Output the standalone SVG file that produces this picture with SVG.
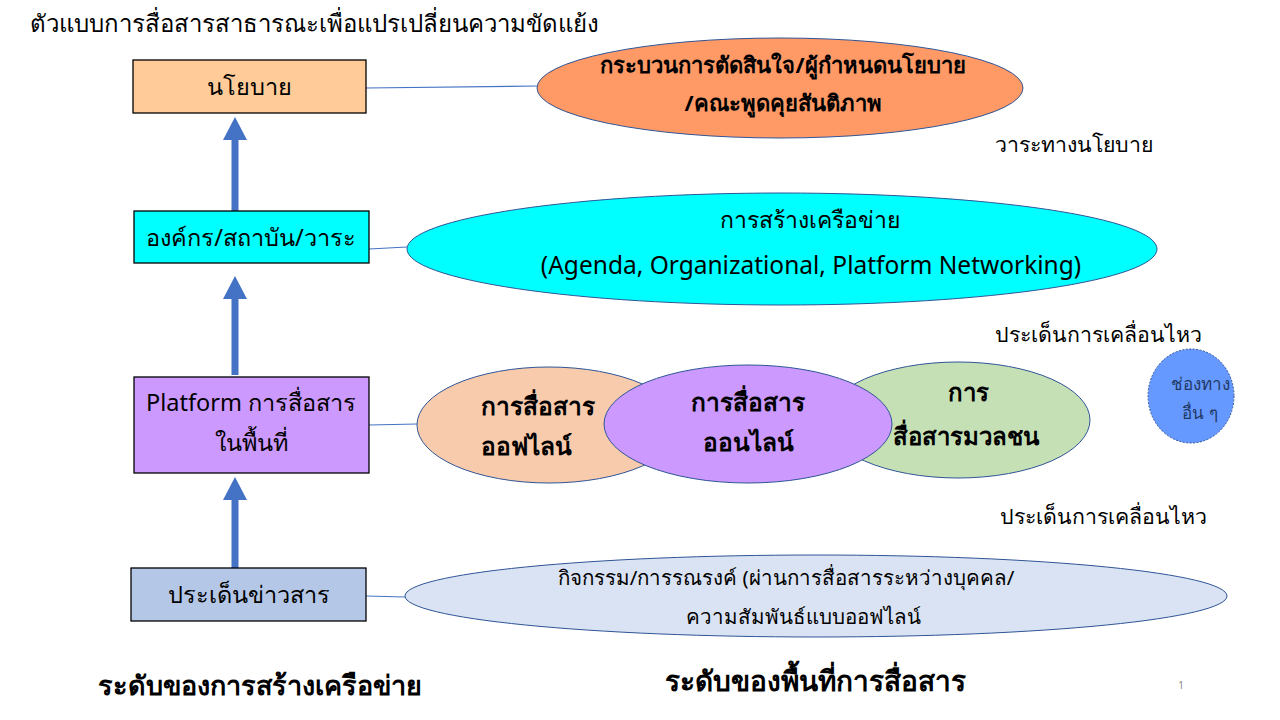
<svg xmlns="http://www.w3.org/2000/svg" width="1280" height="720" viewBox="0 0 1280 720">
<defs>
<style>
text{font-family:"Noto Sans","DejaVu Sans",sans-serif;fill:#000}
.box{stroke:#000;stroke-width:1.3}
.ell{stroke:#2F5597;stroke-width:1}
.link{stroke:#4472C4;stroke-width:1.2;fill:none}
.arrow{fill:#4472C4}
.b{font-weight:bold}
</style>
</defs>
<rect width="1280" height="720" fill="#fff"/>
<text x="30" y="32" font-size="24">ตัวแบบการสื่อสารสาธารณะเพื่อแปรเปลี่ยนความขัดแย้ง</text>

<g id="connectors">
<line class="link" x1="366" y1="88" x2="537" y2="86"/>
<line class="link" x1="369" y1="249" x2="407" y2="247"/>
<line class="link" x1="369" y1="425" x2="417" y2="424"/>
<line class="link" x1="366" y1="596" x2="405" y2="597"/>
<path class="arrow" d="M231.5 212 V140 H223 L235 117 L247 140 H238.5 V212 Z"/>
<path class="arrow" d="M231.5 375 V299 H223 L235 276 L247 299 H238.5 V375 Z"/>
<path class="arrow" d="M231.5 568 V500 H223 L235 477 L247 500 H238.5 V568 Z"/>
</g>

<g id="n-policy">
<rect class="box" x="133" y="60" width="233" height="53" fill="#FFCC99"/>
<text x="249" y="95" font-size="23.5" text-anchor="middle">นโยบาย</text>
</g>
<g id="n-org">
<rect class="box" x="134" y="211" width="235" height="52" fill="#00FFFF"/>
<text x="251" y="246" font-size="23.5" text-anchor="middle">องค์กร/สถาบัน/วาระ</text>
</g>
<g id="n-platform">
<rect class="box" x="134" y="377" width="235" height="96" fill="#CC99FF"/>
<text x="251" y="411" font-size="23.5" text-anchor="middle">Platform การสื่อสาร</text>
<text x="251" y="451" font-size="23.5" text-anchor="middle">ในพื้นที่</text>
</g>
<g id="n-issue">
<rect class="box" x="131" y="568" width="235" height="53" fill="#B4C7E7"/>
<text x="249" y="603" font-size="23.5" text-anchor="middle">ประเด็นข่าวสาร</text>
</g>

<g id="e-decision">
<ellipse class="ell" cx="780" cy="88" rx="243" ry="50" fill="#FF9966"/>
<text x="783" y="73" font-size="22" class="b" text-anchor="middle">กระบวนการตัดสินใจ/ผู้กำหนดนโยบาย</text>
<text x="783" y="111" font-size="22" class="b" text-anchor="middle">/คณะพูดคุยสันติภาพ</text>
</g>
<text x="995" y="152" font-size="21.3">วาระทางนโยบาย</text>

<g id="e-network">
<ellipse class="ell" cx="782" cy="249" rx="375" ry="56" fill="#00FFFF"/>
<text x="810" y="228" font-size="23" text-anchor="middle">การสร้างเครือข่าย</text>
<text x="811" y="274" font-size="24.5" text-anchor="middle">(Agenda, Organizational, Platform Networking)</text>
</g>
<text x="995" y="342" font-size="21.3">ประเด็นการเคลื่อนไหว</text>

<g id="e-offline">
<ellipse class="ell" cx="549" cy="425" rx="132" ry="58" fill="#F8CBAD"/>
<text x="538" y="415" font-size="24.5" class="b" text-anchor="middle">การสื่อสาร</text>
<text x="526" y="455" font-size="24.5" class="b" text-anchor="middle">ออฟไลน์</text>
</g>
<g id="e-mass">
<ellipse class="ell" cx="958" cy="420" rx="132" ry="58" fill="#C5E0B4"/>
<text x="968" y="401" font-size="24" class="b" text-anchor="middle">การ</text>
<text x="966" y="445" font-size="24" class="b" text-anchor="middle">สื่อสารมวลชน</text>
</g>
<g id="e-online">
<ellipse class="ell" cx="748" cy="424" rx="144" ry="59" fill="#CC99FF"/>
<text x="748" y="411" font-size="24.5" class="b" text-anchor="middle">การสื่อสาร</text>
<text x="748" y="451" font-size="24.5" class="b" text-anchor="middle">ออนไลน์</text>
</g>
<g id="e-other">
<ellipse cx="1191" cy="396" rx="43" ry="47" fill="#6699FF" stroke="#2F5597" stroke-width="1" stroke-dasharray="2 1.5"/>
<text x="1200" y="390" font-size="17" text-anchor="middle" style="fill:#1F3864">ช่องทาง</text>
<text x="1200" y="419" font-size="17" text-anchor="middle" style="fill:#1F3864">อื่น ๆ</text>
</g>
<text x="1000" y="524" font-size="21.3">ประเด็นการเคลื่อนไหว</text>

<g id="e-activity">
<ellipse class="ell" cx="816" cy="596" rx="411" ry="41" fill="#DAE3F3"/>
<text x="786" y="585" font-size="20.5" text-anchor="middle">กิจกรรม/การรณรงค์ (ผ่านการสื่อสารระหว่างบุคคล/</text>
<text x="803" y="624" font-size="20.5" text-anchor="middle">ความสัมพันธ์แบบออฟไลน์</text>
</g>

<text x="260" y="695" font-size="27" class="b" text-anchor="middle">ระดับของการสร้างเครือข่าย</text>
<text x="815" y="691" font-size="28" class="b" text-anchor="middle">ระดับของพื้นที่การสื่อสาร</text>
<text x="1181" y="689" font-size="10" text-anchor="middle" style="fill:#888">1</text>
</svg>
